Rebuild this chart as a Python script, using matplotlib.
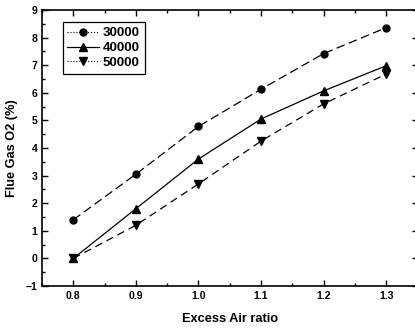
import matplotlib
matplotlib.use("Agg")
import matplotlib.pyplot as plt
from matplotlib.lines import Line2D
from matplotlib.ticker import MultipleLocator

plt.rcParams['font.family'] = ['Liberation Sans', 'DejaVu Sans']
plt.rcParams['font.weight'] = 'bold'

# data
excess_air = [0.8, 0.9, 1.0, 1.1, 1.2, 1.3]
o2_30000 = [1.40, 3.05, 4.78, 6.13, 7.42, 8.36]
o2_40000 = [0.00, 1.80, 3.60, 5.05, 6.07, 6.98]
o2_50000 = [0.00, 1.20, 2.70, 4.25, 5.60, 6.68]
series_labels = ['30000', '40000', '50000']

fig = plt.figure(figsize=(4.15, 3.29), dpi=100)
ax = fig.add_axes([42 / 415, 1 - 286 / 329, 375.5 / 415, 276 / 329])

ax.plot(excess_air, o2_30000, color='black', lw=0.9, dashes=(7, 3.5),
        marker='o', ms=5)
ax.plot(excess_air, o2_40000, color='black', lw=0.9, ls='-',
        marker='^', ms=5.5)
ax.plot(excess_air, o2_50000, color='black', lw=0.9, dashes=(6, 4),
        marker='v', ms=5.5)

ax.set_xlim(0.75, 1.35)
ax.set_ylim(-1, 9)
ax.xaxis.set_major_locator(MultipleLocator(0.1))
ax.xaxis.set_minor_locator(MultipleLocator(0.05))
ax.yaxis.set_major_locator(MultipleLocator(1))
ax.yaxis.set_minor_locator(MultipleLocator(0.5))
ax.tick_params(which='both', direction='in', top=True, right=True,
               labelsize=7.5, width=1)
ax.tick_params(which='major', length=4.5)
ax.tick_params(which='minor', length=2.5)
for sp in ax.spines.values():
    sp.set_linewidth(1.2)

ax.set_xlabel('Excess Air ratio', fontsize=9.2, fontweight='bold', labelpad=9)
ax.set_ylabel('Flue Gas O2 (%)', fontsize=9.2, fontweight='bold', labelpad=5)

handles = [
    Line2D([], [], color='black', lw=0.8, ls=':', marker='o', ms=5),
    Line2D([], [], color='black', lw=0.9, ls='-', marker='^', ms=5.5),
    Line2D([], [], color='black', lw=0.8, ls=':', marker='v', ms=5.5),
]
leg = ax.legend(handles, series_labels, loc='upper left',
                bbox_to_anchor=(0.055, 0.955), fontsize=9.5, frameon=True,
                fancybox=False, edgecolor='black', framealpha=1,
                handlelength=2.4, handletextpad=0.3, labelspacing=0.2,
                borderpad=0.35, borderaxespad=0)
leg.get_frame().set_linewidth(0.9)

fig.savefig('out.png', dpi=100)
